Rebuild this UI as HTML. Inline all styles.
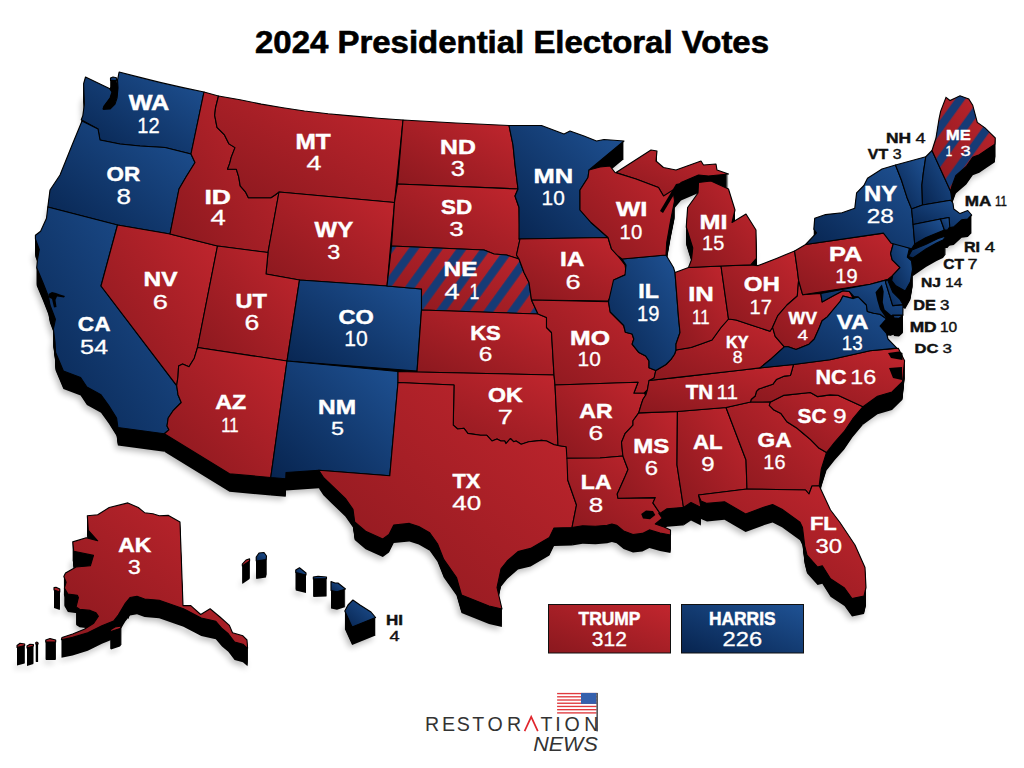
<!DOCTYPE html><html><head><meta charset="utf-8"><style>
html,body{margin:0;padding:0;background:#fff;width:1024px;height:768px;overflow:hidden}
svg{display:block}
text{font-family:"Liberation Sans",sans-serif}
</style></head><body>
<svg width="1024" height="768" viewBox="0 0 1024 768">
<defs>
<linearGradient id="gR" x1="0" y1="1" x2="1" y2="0"><stop offset="0" stop-color="#8a181e"/><stop offset="1" stop-color="#c2262e"/></linearGradient>
<linearGradient id="gB" x1="0" y1="1" x2="1" y2="0"><stop offset="0" stop-color="#07244f"/><stop offset="1" stop-color="#1f5294"/></linearGradient>
<pattern id="stripes" patternUnits="userSpaceOnUse" width="19.46" height="40" patternTransform="rotate(35.8)"><rect x="9.9" y="0" width="8.3" height="40" fill="#163b76"/></pattern>
<pattern id="stripesME" patternUnits="userSpaceOnUse" width="19.46" height="40" patternTransform="rotate(35.8)"><rect x="0" y="0" width="4.15" height="40" fill="#163b76"/><rect x="15.31" y="0" width="4.15" height="40" fill="#163b76"/></pattern>
<filter id="blur" x="-10%" y="-10%" width="120%" height="130%"><feGaussianBlur stdDeviation="3"/></filter>

<g id="land"><path id="sWA" d="M85.5,77 L109.4,88.4 L112,92 L110,98 L104,106 L103,109 L110,109 L115,104 L117,98 L118,88 L117.5,80 L119.1,72 L140,77.4 L160,82.4 L182,87.4 L204,92 L191,154 L165,147.5 L140,146 L120,144 L100,140 L98,129 L81.25,119.7 L82.8,115.8 L84.4,104 L83.6,83.75Z"/><path id="sWAp" d="M110.5,78 L113,77 L116.4,77.8 L116.4,80.5 L110.5,80.5Z"/><path id="sOR" d="M82,121 L98,129 L100,140 L120,144 L140,146 L165,147.5 L191,154 L195,162.5 L186,177 L179,189 L170,234 L117.5,225 L47.8,207 L50,190 L60,175 L72.5,144Z"/><path id="sCA" d="M47.8,207 L117.5,225 L101,286 L176.7,385.6 L178,394.7 L181.25,402.5 L173.4,410.3 L168.2,418 L167,426 L168.9,429.8 L164.3,433.75 L117.9,427.5 L116.6,418 L108.75,405.6 L101,394.7 L86.9,387 L80.6,377.5 L63.4,371 L55.6,352.5 L55,342 L53.4,329 L55.4,319.3 L50,305 L48.4,296.4 L43.2,283.3 L36.7,267.7 L37.4,260 L39.3,249.5 L35.4,239 L35.4,235.2 L40.6,231.25 L46.5,218.2Z"/><path id="sNV" d="M117.5,225 L170,234 L217.5,246 L197.5,347.5 L194.3,358.2 L189,366.7 L182.6,364 L178.6,366 L178,376.5 L176.7,385.6 L101,286Z"/><path id="sID" d="M204,92 L218.5,96 L215.5,108 L214.7,115.4 L217,127.4 L224.5,134.9 L229,143.9 L235,147.6 L231.2,157.4 L229.7,163.4 L227.5,169.3 L236.4,169.3 L238.7,176.8 L240.2,185.8 L245.4,191.8 L248.4,197.8 L257.4,197.8 L270.9,197.8 L275.4,194.8 L279,192 L268,252.5 L217.5,246 L170,234 L179,189 L186,177 L195,162.5 L191,154Z"/><path id="sMT" d="M218.5,96 L240,99.8 L261.3,104.1 L283,107.8 L304.5,111 L328,113.8 L353.8,116.1 L378,118.2 L403,120 L394.5,202.5 L279,192 L275.4,194.8 L270.9,197.8 L257.4,197.8 L248.4,197.8 L245.4,191.8 L240.2,185.8 L238.7,176.8 L236.4,169.3 L227.5,169.3 L229.7,163.4 L231.2,157.4 L235,147.6 L229,143.9 L224.5,134.9 L217,127.4 L214.7,115.4 L215.5,108 L218.5,96Z"/><path id="sWY" d="M279,192 L394.5,202.5 L387,286 L299.5,280 L266,274 L268,252.5Z"/><path id="sUT" d="M217.5,246 L268,252.5 L266,274 L299.5,280 L287,361 L197.5,347.5Z"/><path id="sAZ" d="M197.5,347.5 L287,361 L270.75,477.5 L229.5,473.75 L164.3,433.75 L168.9,429.8 L167,426 L168.2,418 L173.4,410.3 L181.25,402.5 L178,394.7 L176.7,385.6 L178,376.5 L178.6,366 L182.6,364 L189,366.7 L194.3,358.2Z"/><path id="sCO" d="M299.5,280 L387,286 L421.5,289 L421.5,310 L417,371 L287,361Z"/><path id="sNM" d="M287,361 L398,371.5 L398,382.5 L389.8,475.8 L318.75,470.3 L286,472.5 L285.75,478.75 L270.75,477.5Z"/><path id="sND" d="M403,120 L456,123 L509,125.5 L513,145 L515,165 L518,189 L397.5,184Z"/><path id="sSD" d="M397.5,184 L518,189 L515,196 L519,207.5 L520,239 L516.5,255 L519,259 L506.5,255 L494,254 L484,250 L391.5,246 L394.5,202.5Z"/><path id="sNE" d="M391.5,246 L484,250 L494,254 L506.5,255 L519,259 L524,272.5 L529,282.5 L531.5,300 L538,314 L421.5,310 L421.5,289 L387,286Z"/><path id="sKS" d="M421.5,310 L538,314 L546.5,317.5 L546.5,327.5 L551.5,332.5 L554,375 L417,372Z"/><path id="sOK" d="M398,371.5 L417,372 L554,375 L555,385 L558,445.5 L554.2,444.8 L546.6,441 L541.5,440.4 L528.8,441.7 L521.2,444.2 L516.1,441 L513.55,441.7 L510.4,438.5 L505.9,443.6 L504.7,441 L500.9,441 L497,439.1 L492,441 L486.9,435.3 L480.5,435.3 L467.85,433.4 L464,428.3 L457.7,429 L453.25,425.2 L454,385 L398,382.5Z"/><path id="sTX" d="M398,382.5 L454,385 L453.25,425.2 L457.7,429 L464,428.3 L467.85,433.4 L480.5,435.3 L486.9,435.3 L492,441 L497,439.1 L500.9,441 L504.7,441 L505.9,443.6 L510.4,438.5 L513.55,441.7 L516.1,441 L521.2,444.2 L528.8,441.7 L541.5,440.4 L546.6,441 L554.2,444.8 L558,445.5 L566.2,446.7 L567.75,457.5 L567.75,480 L576.5,505 L572,527.5 L554,528 L549.4,537.5 L530.6,548.4 L518,551.6 L507.2,561 L501,568.75 L497,587.5 L502,609 L489,606 L474,600 L461.5,595 L456.5,577.5 L443.75,559.4 L437.5,543.75 L429.7,532.8 L418.75,526.6 L409.4,523.4 L393.75,525 L389,534.4 L382.8,539 L365.6,531.25 L354.7,521.9 L353,509.4 L345.3,498.4 L331.25,485 L323.4,477.3 L318.75,470.3 L389.8,475.8Z"/><path id="sMN" d="M509,125.5 L541.5,125.5 L564,134 L570,131 L584,136 L596.5,141 L604,139.5 L624,141 L589,170 L588,177.5 L580,190 L580,210 L591,222.5 L608,237.5 L519,239 L519,207.5 L515,196 L518,189 L515,165 L513,145Z"/><path id="sIA" d="M519,239 L608,237.5 L611.5,249 L618,256 L625,265 L626.5,274 L614,280 L613,292.5 L608,301 L531.5,300 L529,282.5 L524,272.5 L519,259 L516.5,255 L520,239Z"/><path id="sMO" d="M531.5,300 L608.5,301.8 L610.2,312 L623.7,325.5 L625.4,332.3 L632.1,334 L633.8,339 L632.1,344.1 L638.9,352.6 L645.7,356 L649,361 L649,367.8 L655.8,370.4 L654.1,378 L649,381.4 L647.4,389.8 L644,393.2 L633.8,393.2 L638,382.2 L555,385 L554,375 L551.5,332.5 L546.5,327.5 L546.5,317.5 L538,314Z"/><path id="sAR" d="M555,385 L638,382.2 L633.8,393.2 L644,393.2 L645.8,395 L643,399.3 L641.5,403.6 L638.7,412.9 L633,420.8 L633,425.1 L625,433.7 L621.5,442.3 L622.9,456 L600,458 L566.9,458.2 L566.2,446.7 L558,445.5Z"/><path id="sLA" d="M566.9,458.2 L600,458 L622.9,456 L625.8,463.8 L628,469.5 L624.4,478.1 L618.6,491 L617.2,493.9 L617.9,498.2 L655.3,497.6 L652.9,502.9 L660,513.4 L658.8,513.4 L662.3,518.1 L655.3,524 L664,527 L670.5,530 L670.5,535 L660,533 L649.4,529.9 L642.4,533.4 L633,534.5 L623.6,531 L616.6,525.2 L611.9,524 L607.2,525.2 L595.5,526.3 L582.6,525.75 L572,527.5 L576.5,505 L567.75,480Z"/><path id="sMS" d="M638.7,412.9 L677.4,411.5 L677,465 L683.5,507.5 L682.2,507.6 L667,508.75 L660,513.4 L652.9,502.9 L655.3,497.6 L617.9,498.2 L617.2,493.9 L618.6,491 L624.4,478.1 L628,469.5 L625.8,463.8 L622.9,456 L621.5,442.3 L625,433.7 L633,425.1 L633,420.8Z"/><path id="sAL" d="M677.4,411.5 L726,407.5 L746,460 L747,489 L698.5,495 L701,507.5 L691,502.5 L683.5,507.5 L677,465Z"/><path id="sGA" d="M726,407.5 L750.55,402 L770.5,401.9 L769.3,405.4 L774,410.1 L781,413.6 L786.9,421.8 L796.3,427.7 L803.3,433.5 L810.3,439.4 L819.2,448.3 L826.5,452.5 L821.25,469.2 L819.2,485.8 L812,486 L809,494 L805.5,490 L747,489 L746,460Z"/><path id="sFL" d="M747,489 L805.5,490 L809,494 L812,486 L819.2,485.8 L830.5,510 L840,522.5 L855,545 L865,567.5 L866,587.5 L864,596 L852,598.6 L844.5,588 L830.5,578.7 L822.3,565.8 L817.6,567 L807,555.2 L804.7,545.9 L802.5,527.5 L800,522.2 L782,509.3 L772.6,504.6 L764.4,507 L745.6,514 L724.5,501.7 L707,503.4 L701,501 L698.5,495Z"/><path id="sSC" d="M770.5,401.9 L783.4,395.4 L810.3,392.5 L817.4,396.6 L830,394.9 L838,395.2 L863,406.7 L852.5,419.2 L844,431.7 L834.8,442 L826.5,452.5 L819.2,448.3 L810.3,439.4 L803.3,433.5 L796.3,427.7 L786.9,421.8 L781,413.6 L774,410.1 L769.3,405.4Z"/><path id="sNC" d="M793.5,364.5 L791.6,371.4 L790.4,375.5 L784.5,376.1 L776.3,379.6 L772.8,384.3 L758.8,389 L756.4,391.3 L755.2,396 L751.1,399.5 L750.55,402 L770.5,401.9 L783.4,395.4 L810.3,392.5 L817.4,396.6 L830,394.9 L838,395.2 L863,406.7 L877.5,396.25 L892,392 L902.5,381.7 L903.5,371.25 L904.6,360.8 L898.3,348.3 L870,350.7 L830,359.7Z"/><path id="sTN" d="M649,380.5 L679.5,377.1 L740,370.2 L760,367.9 L793.5,364.5 L791.6,371.4 L790.4,375.5 L784.5,376.1 L776.3,379.6 L772.8,384.3 L758.8,389 L756.4,391.3 L755.2,396 L751.1,399.5 L750.55,402 L726,407.5 L677.4,411.5 L638.7,412.9 L641.5,403.6 L643,399.3 L645.8,395 L647.4,389.8Z"/><path id="sKY" d="M676,350 L691,347.5 L701,344 L712,340 L721,327.5 L728.5,319 L736,320 L751,325 L770,331.2 L772.6,327.3 L775.2,336.4 L784.3,346.8 L770,359.8 L760,367.9 L740,370.2 L679.5,377.1 L649,380.5 L654.1,378 L655.8,370.4 L666,364.5 L671,359.4 L674.5,354.3Z"/><path id="sIL" d="M622,259 L666,255 L673.5,267.5 L675,272.5 L678.5,317.5 L680,332.5 L676,344 L676,350 L674.5,354.3 L671,359.4 L666,364.5 L655.8,370.4 L649,367.8 L649,361 L645.7,356 L638.9,352.6 L632.1,344.1 L633.8,339 L632.1,334 L625.4,332.3 L623.7,325.5 L610.2,312 L608.5,301.8 L613.5,280 L625,275 L626,265Z"/><path id="sIN" d="M675,272.5 L688.5,267.5 L721,266 L728.5,319 L721,327.5 L712,340 L701,344 L691,347.5 L676,350 L676,344 L680,332.5 L678.5,317.5Z"/><path id="sOH" d="M721,266 L751,265 L758.2,265.6 L776.4,258.4 L794.6,251 L797.3,270 L798.6,280.4 L797.3,296 L787,305 L777.8,315.6 L772.6,327.3 L770,331.2 L751,325 L736,320 L728.5,319Z"/><path id="sWV" d="M798.6,280.4 L802.6,294.7 L820.8,293.4 L822.1,301.9 L833.8,295.4 L842.9,290.8 L849.4,291.5 L853.3,298.6 L842.9,296 L840.3,301.25 L833.8,309 L827.3,316.9 L822.1,320.8 L819.5,327.3 L814.3,339 L809,344.2 L796,349.4 L788.2,346.8 L784.3,346.8 L775.2,336.4 L772.6,327.3 L777.8,315.6 L787,305 L797.3,296Z"/><path id="sVA" d="M760,367.9 L770,359.8 L784.3,346.8 L788.2,346.8 L796,349.4 L809,344.2 L814.3,339 L819.5,327.3 L822.1,320.8 L827.3,316.9 L833.8,309 L840.3,301.25 L842.9,296 L853.3,298.6 L858.2,296.9 L866.4,305 L867.3,311.5 L873.7,313.3 L880,314.2 L886.5,318.75 L880,326 L886.5,333.3 L888,339 L896.9,348.1 L870,350.7 L830,359.7 L793.5,364.5Z"/><path id="sVAe" d="M892.8,315.1 L902.9,315.1 L899,318.5 L894,318Z"/><path id="sPA" d="M794.6,251 L805.6,244.5 L883.4,233.1 L893.75,242 L890.6,253.5 L892.2,259.8 L900,267.6 L892.7,275.4 L887.5,279.6 L870.3,284.3 L802.6,294.7 L798.6,280.4 L797.3,270Z"/><path id="sMD" d="M820.8,293.4 L870.3,284.3 L887.5,279.6 L885.4,281.7 L892.7,305.6 L903,304.6 L902.9,315.1 L892.8,315.1 L886.5,318.75 L880,314.2 L873.7,313.3 L867.3,311.5 L866.4,305 L858.2,296.9 L853.9,296.6 L849.4,291.5 L842.9,290.8 L833.8,295.4 L822.1,301.9Z"/><path id="sDE" d="M885.4,281.7 L887.5,279.6 L892.7,292 L900,299.4 L903,304.6 L892.7,305.6Z"/><path id="sNJ" d="M893.75,242 L909.4,248.3 L907.3,257.2 L911.5,260.8 L912.5,269.2 L910.4,281.7 L905.2,291 L895.8,285.8 L891.7,280.6 L892.7,275.4 L900,267.6 L892.2,259.8 L890.6,253.5Z"/><path id="sNY" d="M814.7,218.3 L825.6,214.6 L842,212.8 L854.75,208.3 L856.6,192.8 L863.9,185.5 L867.5,178.2 L882,169 L895.5,165 L901.4,180 L906.9,197.2 L911.6,208.9 L913.1,224.5 L914.7,244 L911.6,248.75 L891.25,243.3 L883.4,233.1 L805.6,244.5 L816.5,232.9 L813.8,229.2Z"/><path id="sLI" d="M908.4,256.6 L912,250 L925.6,244.5 L938,238.5 L946,236 L943,240 L936.6,243 L926,249 L913,258Z"/><path id="sVT" d="M895.5,165 L925.8,156.75 L923.4,172.4 L921.9,185 L922.5,205 L911.6,208.9 L906.9,197.2 L901.4,180Z"/><path id="sNH" d="M925.8,156.75 L932,150.5 L950.6,191.2 L952.2,201.9 L950.6,200.3 L922.5,205 L921.9,185 L923.4,172.4Z"/><path id="sME" d="M932,150.5 L936,138 L939,119 L940.6,111.4 L946,97.4 L950,100.5 L960,95.8 L968.75,99 L972.7,105.2 L977.3,122.4 L985,127.8 L990.6,133.3 L995.3,138 L994.9,144.3 L987,149.5 L979.3,154.7 L972.75,157.3 L966.25,166.5 L955.8,175.6 L952,186 L950.6,191.2Z"/><path id="sMA" d="M911.6,208.9 L922.5,205 L950.6,200.3 L952.2,201.9 L953,203.4 L953.75,209 L960,213.6 L967.8,210.5 L971.7,215 L967.8,219 L961.6,219.8 L953.75,226.9 L949,227.7 L949,217.5 L940.5,219 L913.1,224.5Z"/><path id="sCT" d="M913.1,224.5 L940.5,219 L944.4,230 L925.6,237.8 L914.7,244Z"/><path id="sRI" d="M940.5,219 L949,217.5 L949.8,226.9 L947.5,230 L944.4,230Z"/><path id="sMI" d="M616,172.5 L651,150 L657,151 L656,161 L663.5,167.5 L676,170 L701,161 L703.5,165 L716,164 L717,170 L728.5,174 L708.5,176 L698.5,175 L681,182.5 L667,199 L663.5,196 L658.5,187.5 L636,179Z"/><path id="sMI2" d="M698.5,182.5 L711,181 L728.5,189 L735,210 L732,222.5 L746,214 L756,230 L756.4,258.4 L751,264.7 L721,266 L688.5,267.5 L691.5,259.6 L692.75,248 L686.25,227 L687.6,207.5 L698,193Z"/><path id="sWI" d="M589,170 L600,167 L610,166 L615,172.5 L636,179 L658.5,187.5 L663.5,196 L673,190 L674.5,201 L670.6,220.6 L666.7,242.7 L666,255 L622,259 L618,256 L611.5,249 L608,237.5 L591,222.5 L580,210 L580,190 L588,177.5Z"/><path id="sAK" d="M87.3,515.8 L97.7,514.8 L109.2,507.5 L127.9,502.9 L138.3,507.5 L144.6,512.7 L152.9,513.75 L159.2,515.8 L168.5,515.4 L180,522 L183,605.6 L190.8,605.6 L200.7,614.5 L210.1,608.75 L220,617 L229.4,625.4 L232.5,632.7 L242.9,635.8 L247,640 L247.6,648.3 L242.9,644.2 L234.6,642 L228.3,633.75 L222,628.5 L215.8,621.25 L201.25,618 L183.5,608.75 L159.2,600.2 L144.6,599 L137,596.3 L130,597.5 L125.3,603.4 L118.3,615.1 L113.6,621 L101.9,625.65 L87.8,632.7 L72.6,637.4 L61.4,639.7 L62,637.4 L72.6,633.9 L84.3,629.2 L93.7,623.3 L98.4,616.3 L96,612.75 L90.2,610.4 L79.6,609.2 L76.1,606.9 L78.4,597.5 L77.3,595.2 L67.9,594 L64.4,588.1 L66.1,582.3 L63.8,576.4 L65.5,572.9 L76.1,567 L90.4,565.8 L93.5,555.4 L73.75,551.25 L72.7,541.9 L86.25,537.7 L97.7,540.8 L88.3,530.4Z"/><path id="sAKk" d="M110,630 L115,627 L121.8,626 L120,628.5 L111,631.5Z"/><path id="sHI1" d="M352.9,600 L360,605 L371,612 L375.6,617.5 L352.1,627 L344.8,611 L348,605Z"/><path id="sHI2" d="M331,581.6 L335,583 L338,583 L345.5,589 L337,591.8 L331,590.5Z"/><path id="sHI3" d="M313.3,577 L318,576.2 L326.5,577 L326.5,578.6 L313.3,579Z"/><path id="sHI4" d="M295.75,570 L299.5,567.7 L306,573 L306,575 L295.75,572.5Z"/><path id="sHI5" d="M256.2,557 L259,553 L264,552.5 L266.5,556 L266,559.6 L256.2,561Z"/><path id="sHI6" d="M242.3,564 L246,560 L249.6,558.9 L249.6,561 L242.3,566Z"/><path id="sAL1" d="M17,645.5 L20,643.3 L24.7,644 L24.7,645.5 L17,647.5Z"/><path id="sAL2" d="M27,646 L30,644.2 L33.4,644.5 L33.4,646 L27,648Z"/><path id="sAL3" d="M35.8,642.5 L37,642.1 L38.1,643 L38.1,644 L35.8,644Z"/><path id="sAL4" d="M45.75,640 L50,638.6 L55.7,640 L55.7,642 L45.75,642Z"/><path id="sAL5" d="M54,587.5 L56,587.3 L59.8,589 L59.8,592 L54,590Z"/></g>
</defs>
<rect width="1024" height="768" fill="#fff"/>
<use href="#land" transform="translate(-2,21)" fill="#000" opacity="0.28" filter="url(#blur)"/>
<use href="#land" transform="translate(0,1)" fill="#000"/>
<use href="#land" transform="translate(0,2)" fill="#000"/>
<use href="#land" transform="translate(0,3)" fill="#000"/>
<use href="#land" transform="translate(0,4)" fill="#000"/>
<use href="#land" transform="translate(0,5)" fill="#000"/>
<use href="#land" transform="translate(0,6)" fill="#000"/>
<use href="#land" transform="translate(0,7)" fill="#000"/>
<use href="#land" transform="translate(0,8)" fill="#000"/>
<use href="#land" transform="translate(0,9)" fill="#000"/>
<use href="#land" transform="translate(0,10)" fill="#000"/>
<use href="#land" transform="translate(0,11)" fill="#000"/>
<use href="#land" transform="translate(0,12)" fill="#000"/>
<use href="#land" transform="translate(0,13)" fill="#000"/>
<use href="#land" transform="translate(0,14)" fill="#000"/>
<use href="#land" transform="translate(0,15)" fill="#000"/>
<use href="#land" transform="translate(0,16)" fill="#000"/>
<use href="#land" transform="translate(0,17)" fill="#000"/>
<use href="#land" transform="translate(0,18)" fill="#000"/>
<use href="#sWA" fill="url(#gB)" stroke="#000" stroke-width="1.1" stroke-linejoin="round"/>
<use href="#sWAp" fill="url(#gB)" stroke="#000" stroke-width="1.1" stroke-linejoin="round"/>
<use href="#sOR" fill="url(#gB)" stroke="#000" stroke-width="1.1" stroke-linejoin="round"/>
<use href="#sCA" fill="url(#gB)" stroke="#000" stroke-width="1.1" stroke-linejoin="round"/>
<use href="#sNV" fill="url(#gR)" stroke="#000" stroke-width="1.1" stroke-linejoin="round"/>
<use href="#sID" fill="url(#gR)" stroke="#000" stroke-width="1.1" stroke-linejoin="round"/>
<use href="#sMT" fill="url(#gR)" stroke="#000" stroke-width="1.1" stroke-linejoin="round"/>
<use href="#sWY" fill="url(#gR)" stroke="#000" stroke-width="1.1" stroke-linejoin="round"/>
<use href="#sUT" fill="url(#gR)" stroke="#000" stroke-width="1.1" stroke-linejoin="round"/>
<use href="#sAZ" fill="url(#gR)" stroke="#000" stroke-width="1.1" stroke-linejoin="round"/>
<use href="#sCO" fill="url(#gB)" stroke="#000" stroke-width="1.1" stroke-linejoin="round"/>
<use href="#sNM" fill="url(#gB)" stroke="#000" stroke-width="1.1" stroke-linejoin="round"/>
<use href="#sND" fill="url(#gR)" stroke="#000" stroke-width="1.1" stroke-linejoin="round"/>
<use href="#sSD" fill="url(#gR)" stroke="#000" stroke-width="1.1" stroke-linejoin="round"/>
<use href="#sNE" fill="url(#gR)"/><use href="#sNE" fill="url(#stripes)" stroke="#000" stroke-width="1.1"/>
<use href="#sKS" fill="url(#gR)" stroke="#000" stroke-width="1.1" stroke-linejoin="round"/>
<use href="#sOK" fill="url(#gR)" stroke="#000" stroke-width="1.1" stroke-linejoin="round"/>
<use href="#sTX" fill="url(#gR)" stroke="#000" stroke-width="1.1" stroke-linejoin="round"/>
<use href="#sMN" fill="url(#gB)" stroke="#000" stroke-width="1.1" stroke-linejoin="round"/>
<use href="#sIA" fill="url(#gR)" stroke="#000" stroke-width="1.1" stroke-linejoin="round"/>
<use href="#sMO" fill="url(#gR)" stroke="#000" stroke-width="1.1" stroke-linejoin="round"/>
<use href="#sAR" fill="url(#gR)" stroke="#000" stroke-width="1.1" stroke-linejoin="round"/>
<use href="#sLA" fill="url(#gR)" stroke="#000" stroke-width="1.1" stroke-linejoin="round"/>
<use href="#sMS" fill="url(#gR)" stroke="#000" stroke-width="1.1" stroke-linejoin="round"/>
<use href="#sAL" fill="url(#gR)" stroke="#000" stroke-width="1.1" stroke-linejoin="round"/>
<use href="#sGA" fill="url(#gR)" stroke="#000" stroke-width="1.1" stroke-linejoin="round"/>
<use href="#sFL" fill="url(#gR)" stroke="#000" stroke-width="1.1" stroke-linejoin="round"/>
<use href="#sSC" fill="url(#gR)" stroke="#000" stroke-width="1.1" stroke-linejoin="round"/>
<use href="#sNC" fill="url(#gR)" stroke="#000" stroke-width="1.1" stroke-linejoin="round"/>
<use href="#sTN" fill="url(#gR)" stroke="#000" stroke-width="1.1" stroke-linejoin="round"/>
<use href="#sKY" fill="url(#gR)" stroke="#000" stroke-width="1.1" stroke-linejoin="round"/>
<use href="#sIL" fill="url(#gB)" stroke="#000" stroke-width="1.1" stroke-linejoin="round"/>
<use href="#sIN" fill="url(#gR)" stroke="#000" stroke-width="1.1" stroke-linejoin="round"/>
<use href="#sOH" fill="url(#gR)" stroke="#000" stroke-width="1.1" stroke-linejoin="round"/>
<use href="#sWV" fill="url(#gR)" stroke="#000" stroke-width="1.1" stroke-linejoin="round"/>
<use href="#sVA" fill="url(#gB)" stroke="#000" stroke-width="1.1" stroke-linejoin="round"/>
<use href="#sVAe" fill="url(#gB)" stroke="#000" stroke-width="1.1" stroke-linejoin="round"/>
<use href="#sPA" fill="url(#gR)" stroke="#000" stroke-width="1.1" stroke-linejoin="round"/>
<use href="#sMD" fill="url(#gB)" stroke="#000" stroke-width="1.1" stroke-linejoin="round"/>
<use href="#sDE" fill="url(#gB)" stroke="#000" stroke-width="1.1" stroke-linejoin="round"/>
<use href="#sNJ" fill="url(#gB)" stroke="#000" stroke-width="1.1" stroke-linejoin="round"/>
<use href="#sNY" fill="url(#gB)" stroke="#000" stroke-width="1.1" stroke-linejoin="round"/>
<use href="#sLI" fill="url(#gB)" stroke="#000" stroke-width="1.1" stroke-linejoin="round"/>
<use href="#sVT" fill="url(#gB)" stroke="#000" stroke-width="1.1" stroke-linejoin="round"/>
<use href="#sNH" fill="url(#gB)" stroke="#000" stroke-width="1.1" stroke-linejoin="round"/>
<use href="#sME" fill="url(#gR)"/><use href="#sME" fill="url(#stripesME)" stroke="#000" stroke-width="1.1"/>
<use href="#sMA" fill="url(#gB)" stroke="#000" stroke-width="1.1" stroke-linejoin="round"/>
<use href="#sCT" fill="url(#gB)" stroke="#000" stroke-width="1.1" stroke-linejoin="round"/>
<use href="#sRI" fill="url(#gB)" stroke="#000" stroke-width="1.1" stroke-linejoin="round"/>
<use href="#sMI" fill="url(#gR)" stroke="#000" stroke-width="1.1" stroke-linejoin="round"/>
<use href="#sMI2" fill="url(#gR)" stroke="#000" stroke-width="1.1" stroke-linejoin="round"/>
<use href="#sWI" fill="url(#gR)" stroke="#000" stroke-width="1.1" stroke-linejoin="round"/>
<use href="#sAK" fill="url(#gR)" stroke="#000" stroke-width="1.1" stroke-linejoin="round"/>
<use href="#sAKk" fill="url(#gR)" stroke="#000" stroke-width="1.1" stroke-linejoin="round"/>
<use href="#sHI1" fill="url(#gB)" stroke="#000" stroke-width="1.1" stroke-linejoin="round"/>
<use href="#sHI2" fill="url(#gB)" stroke="#000" stroke-width="1.1" stroke-linejoin="round"/>
<use href="#sHI3" fill="url(#gB)" stroke="#000" stroke-width="1.1" stroke-linejoin="round"/>
<use href="#sHI4" fill="url(#gB)" stroke="#000" stroke-width="1.1" stroke-linejoin="round"/>
<use href="#sHI5" fill="url(#gB)" stroke="#000" stroke-width="1.1" stroke-linejoin="round"/>
<use href="#sHI6" fill="url(#gR)" stroke="#000" stroke-width="1.1" stroke-linejoin="round"/>
<use href="#sAL1" fill="url(#gR)" stroke="#000" stroke-width="1.1" stroke-linejoin="round"/>
<use href="#sAL2" fill="url(#gR)" stroke="#000" stroke-width="1.1" stroke-linejoin="round"/>
<use href="#sAL3" fill="url(#gR)" stroke="#000" stroke-width="1.1" stroke-linejoin="round"/>
<use href="#sAL4" fill="url(#gR)" stroke="#000" stroke-width="1.1" stroke-linejoin="round"/>
<use href="#sAL5" fill="url(#gR)" stroke="#000" stroke-width="1.1" stroke-linejoin="round"/>
<path d="M127,602 L130,598.5 L136,597.5 L137.5,599.5 L134,603 L131,610 L128.5,619 L126,616 L127.5,608Z" fill="#000"/>
<path d="M48.5,294 L52,292 L56,293 L60,294.5 L65,296 L64,297.5 L57,296.5 L55.5,300 L56.5,307 L54,307.5 L52,299 L49,297.5Z" fill="#000"/>
<path d="M660,211 L676,184 L681,183 L666,208 L663,213Z" fill="#000"/>
<path d="M641.2,514 L646,510.5 L653,511 L655.3,515 L650,519.3 L643,518.5Z" fill="#000"/>
<path d="M109.4,88.4 L116.4,80.5 L118,88 L117,98 L115,104 L110,109 L103,110 L104,106 L110,98 L112,92Z" fill="#000"/>
<path d="M881.9,284.6 L883.7,291.4 L882.8,302.3 L884.6,309.6 L891,315.1 L892,326 L897.4,333.3 L890,336 L886.5,333.3 L880,326 L886.5,318.75 L880,309.6 L877.3,300.5 L875.5,292.3Z" fill="#000"/>
<path d="M888,353 L899,351.5 L902.5,353 L902.5,360 L891,358Z" fill="#000"/>
<path d="M889,368 L902,367 L902,380 L893,378Z" fill="#000"/>
<text transform="translate(128.75,110) scale(1.127,1)" font-size="22.35" font-weight="bold" fill="#fff" stroke="#fff" stroke-width="0.45">WA</text>
<text transform="translate(137.34,132.5) scale(0.898,1)" font-size="22.35" fill="#fff" stroke="#fff" stroke-width="0.30">12</text>
<text transform="translate(106.60,181) scale(1.071,1)" font-size="20.95" font-weight="bold" fill="#fff" stroke="#fff" stroke-width="0.45">OR</text>
<text transform="translate(116.46,203.5) scale(1.203,1)" font-size="21.65" fill="#fff" stroke="#fff" stroke-width="0.30">8</text>
<text transform="translate(204.41,204) scale(1.262,1)" font-size="20.95" font-weight="bold" fill="#fff" stroke="#fff" stroke-width="0.45">ID</text>
<text transform="translate(210.45,225) scale(1.268,1)" font-size="21.65" fill="#fff" stroke="#fff" stroke-width="0.30">4</text>
<text transform="translate(295.54,148.5) scale(1.092,1)" font-size="22.35" font-weight="bold" fill="#fff" stroke="#fff" stroke-width="0.45">MT</text>
<text transform="translate(306.46,170) scale(1.287,1)" font-size="20.95" fill="#fff" stroke="#fff" stroke-width="0.30">4</text>
<text transform="translate(314.50,237) scale(1.074,1)" font-size="22.35" font-weight="bold" fill="#fff" stroke="#fff" stroke-width="0.45">WY</text>
<text transform="translate(327.30,259) scale(1.120,1)" font-size="20.95" fill="#fff" stroke="#fff" stroke-width="0.30">3</text>
<text transform="translate(440.01,154) scale(1.183,1)" font-size="20.95" font-weight="bold" fill="#fff" stroke="#fff" stroke-width="0.45">ND</text>
<text transform="translate(450.73,176) scale(1.178,1)" font-size="21.65" fill="#fff" stroke="#fff" stroke-width="0.30">3</text>
<text transform="translate(441.05,213.75) scale(1.089,1)" font-size="20.60" font-weight="bold" fill="#fff" stroke="#fff" stroke-width="0.45">SD</text>
<text transform="translate(449.22,236) scale(1.242,1)" font-size="20.95" fill="#fff" stroke="#fff" stroke-width="0.30">3</text>
<text transform="translate(533.47,182.5) scale(1.216,1)" font-size="20.95" font-weight="bold" fill="#fff" stroke="#fff" stroke-width="0.45">MN</text>
<text transform="translate(541.54,205) scale(0.996,1)" font-size="20.95" fill="#fff" stroke="#fff" stroke-width="0.30">10</text>
<text transform="translate(616.00,216) scale(1.230,1)" font-size="20.95" font-weight="bold" fill="#fff" stroke="#fff" stroke-width="0.45">WI</text>
<text transform="translate(619.57,238.5) scale(0.973,1)" font-size="20.95" fill="#fff" stroke="#fff" stroke-width="0.30">10</text>
<text transform="translate(699.49,229) scale(1.202,1)" font-size="20.95" font-weight="bold" fill="#fff" stroke="#fff" stroke-width="0.45">MI</text>
<text transform="translate(702.11,250) scale(0.949,1)" font-size="20.95" fill="#fff" stroke="#fff" stroke-width="0.30">15</text>
<text transform="translate(864.07,201) scale(1.066,1)" font-size="22.35" font-weight="bold" fill="#fff" stroke="#fff" stroke-width="0.45">NY</text>
<text transform="translate(866.78,222.5) scale(1.163,1)" font-size="20.95" fill="#fff" stroke="#fff" stroke-width="0.30">28</text>
<text transform="translate(235.59,307.5) scale(1.126,1)" font-size="20.95" font-weight="bold" fill="#fff" stroke="#fff" stroke-width="0.45">UT</text>
<text transform="translate(244.42,330) scale(1.190,1)" font-size="22.35" fill="#fff" stroke="#fff" stroke-width="0.30">6</text>
<text transform="translate(338.56,324) scale(1.124,1)" font-size="20.95" font-weight="bold" fill="#fff" stroke="#fff" stroke-width="0.45">CO</text>
<text transform="translate(344.27,346) scale(0.945,1)" font-size="22.35" fill="#fff" stroke="#fff" stroke-width="0.30">10</text>
<text transform="translate(143.54,286) scale(1.165,1)" font-size="20.95" font-weight="bold" fill="#fff" stroke="#fff" stroke-width="0.45">NV</text>
<text transform="translate(152.86,309) scale(1.300,1)" font-size="20.95" fill="#fff" stroke="#fff" stroke-width="0.30">6</text>
<text transform="translate(77.85,331) scale(1.079,1)" font-size="20.95" font-weight="bold" fill="#fff" stroke="#fff" stroke-width="0.45">CA</text>
<text transform="translate(79.99,354) scale(1.209,1)" font-size="20.95" fill="#fff" stroke="#fff" stroke-width="0.30">54</text>
<text transform="translate(443.54,276) scale(1.164,1)" font-size="20.95" font-weight="bold" fill="#fff" stroke="#fff" stroke-width="0.45">NE</text>
<text transform="translate(444.45,299) scale(1.228,1)" font-size="22.35" fill="#fff" stroke="#fff" stroke-width="0.30">4</text>
<text transform="translate(469.44,299) scale(0.800,1)" font-size="22.35" fill="#fff" stroke="#fff" stroke-width="0.30">1</text>
<text transform="translate(470.18,340) scale(1.053,1)" font-size="20.95" font-weight="bold" fill="#fff" stroke="#fff" stroke-width="0.45">KS</text>
<text transform="translate(478.78,361) scale(1.168,1)" font-size="20.95" fill="#fff" stroke="#fff" stroke-width="0.30">6</text>
<text transform="translate(560.03,266) scale(1.170,1)" font-size="20.95" font-weight="bold" fill="#fff" stroke="#fff" stroke-width="0.45">IA</text>
<text transform="translate(565.49,289) scale(1.300,1)" font-size="20.95" fill="#fff" stroke="#fff" stroke-width="0.30">6</text>
<text transform="translate(570.01,345) scale(1.183,1)" font-size="20.95" font-weight="bold" fill="#fff" stroke="#fff" stroke-width="0.45">MO</text>
<text transform="translate(577.54,366) scale(0.996,1)" font-size="20.95" fill="#fff" stroke="#fff" stroke-width="0.30">10</text>
<text transform="translate(638.36,297.5) scale(1.108,1)" font-size="20.95" font-weight="bold" fill="#fff" stroke="#fff" stroke-width="0.45">IL</text>
<text transform="translate(637.09,321) scale(0.927,1)" font-size="21.65" fill="#fff" stroke="#fff" stroke-width="0.30">19</text>
<text transform="translate(688.21,301) scale(1.223,1)" font-size="20.95" font-weight="bold" fill="#fff" stroke="#fff" stroke-width="0.45">IN</text>
<text transform="translate(692.10,324) scale(0.800,1)" font-size="20.95" fill="#fff" stroke="#fff" stroke-width="0.30">11</text>
<text transform="translate(743.78,291) scale(1.152,1)" font-size="20.95" font-weight="bold" fill="#fff" stroke="#fff" stroke-width="0.45">OH</text>
<text transform="translate(749.59,314) scale(0.958,1)" font-size="20.95" fill="#fff" stroke="#fff" stroke-width="0.30">17</text>
<text transform="translate(788.50,323.5) scale(1.054,1)" font-size="16.76" font-weight="bold" fill="#fff" stroke="#fff" stroke-width="0.45">WV</text>
<text transform="translate(797.51,339.5) scale(1.300,1)" font-size="14.66" fill="#fff" stroke="#fff" stroke-width="0.30">4</text>
<text transform="translate(726.02,347.5) scale(1.012,1)" font-size="16.06" font-weight="bold" fill="#fff" stroke="#fff" stroke-width="0.45">KY</text>
<text transform="translate(732.79,362.5) scale(1.103,1)" font-size="16.06" fill="#fff" stroke="#fff" stroke-width="0.30">8</text>
<text transform="translate(828.98,261) scale(1.210,1)" font-size="20.95" font-weight="bold" fill="#fff" stroke="#fff" stroke-width="0.45">PA</text>
<text transform="translate(835.34,282.5) scale(0.958,1)" font-size="20.95" fill="#fff" stroke="#fff" stroke-width="0.30">19</text>
<text transform="translate(836.75,329) scale(1.154,1)" font-size="20.95" font-weight="bold" fill="#fff" stroke="#fff" stroke-width="0.45">VA</text>
<text transform="translate(841.68,350) scale(0.901,1)" font-size="20.95" fill="#fff" stroke="#fff" stroke-width="0.30">13</text>
<text transform="translate(815.46,383.5) scale(1.025,1)" font-size="20.95" font-weight="bold" fill="#fff" stroke="#fff" stroke-width="0.45">NC</text>
<text transform="translate(850.37,383.5) scale(1.115,1)" font-size="20.95" fill="#fff" stroke="#fff" stroke-width="0.30">16</text>
<text transform="translate(685.79,399) scale(0.984,1)" font-size="20.95" font-weight="bold" fill="#fff" stroke="#fff" stroke-width="0.45">TN</text>
<text transform="translate(716.56,399) scale(0.984,1)" font-size="20.95" fill="#fff" stroke="#fff" stroke-width="0.30">11</text>
<text transform="translate(579.29,417.5) scale(1.099,1)" font-size="20.95" font-weight="bold" fill="#fff" stroke="#fff" stroke-width="0.45">AR</text>
<text transform="translate(588.50,439.5) scale(1.300,1)" font-size="20.25" fill="#fff" stroke="#fff" stroke-width="0.30">6</text>
<text transform="translate(633.31,452.5) scale(1.148,1)" font-size="20.95" font-weight="bold" fill="#fff" stroke="#fff" stroke-width="0.45">MS</text>
<text transform="translate(644.80,475) scale(1.143,1)" font-size="20.95" fill="#fff" stroke="#fff" stroke-width="0.30">6</text>
<text transform="translate(693.06,449) scale(1.062,1)" font-size="20.95" font-weight="bold" fill="#fff" stroke="#fff" stroke-width="0.45">AL</text>
<text transform="translate(701.29,471.25) scale(1.143,1)" font-size="20.95" fill="#fff" stroke="#fff" stroke-width="0.30">9</text>
<text transform="translate(757.60,446.5) scale(1.156,1)" font-size="19.55" font-weight="bold" fill="#fff" stroke="#fff" stroke-width="0.45">GA</text>
<text transform="translate(763.36,469) scale(0.949,1)" font-size="20.95" fill="#fff" stroke="#fff" stroke-width="0.30">16</text>
<text transform="translate(797.58,422.5) scale(0.992,1)" font-size="20.95" font-weight="bold" fill="#fff" stroke="#fff" stroke-width="0.45">SC</text>
<text transform="translate(833.02,422.5) scale(1.168,1)" font-size="20.95" fill="#fff" stroke="#fff" stroke-width="0.30">9</text>
<text transform="translate(580.87,489) scale(1.097,1)" font-size="20.95" font-weight="bold" fill="#fff" stroke="#fff" stroke-width="0.45">LA</text>
<text transform="translate(588.71,511.5) scale(1.243,1)" font-size="20.95" fill="#fff" stroke="#fff" stroke-width="0.30">8</text>
<text transform="translate(488.07,401.5) scale(1.184,1)" font-size="19.55" font-weight="bold" fill="#fff" stroke="#fff" stroke-width="0.45">OK</text>
<text transform="translate(497.64,424) scale(1.297,1)" font-size="20.95" fill="#fff" stroke="#fff" stroke-width="0.30">7</text>
<text transform="translate(452.53,487.5) scale(1.041,1)" font-size="20.95" font-weight="bold" fill="#fff" stroke="#fff" stroke-width="0.45">TX</text>
<text transform="translate(452.23,510) scale(1.243,1)" font-size="20.95" fill="#fff" stroke="#fff" stroke-width="0.30">40</text>
<text transform="translate(215.29,409) scale(1.187,1)" font-size="19.55" font-weight="bold" fill="#fff" stroke="#fff" stroke-width="0.45">AZ</text>
<text transform="translate(221.23,431.5) scale(0.800,1)" font-size="20.95" fill="#fff" stroke="#fff" stroke-width="0.30">11</text>
<text transform="translate(318.03,414) scale(1.167,1)" font-size="20.95" font-weight="bold" fill="#fff" stroke="#fff" stroke-width="0.45">NM</text>
<text transform="translate(331.06,435) scale(1.243,1)" font-size="18.85" fill="#fff" stroke="#fff" stroke-width="0.30">5</text>
<text transform="translate(118.29,551.5) scale(1.169,1)" font-size="19.55" font-weight="bold" fill="#fff" stroke="#fff" stroke-width="0.45">AK</text>
<text transform="translate(128.06,574) scale(1.174,1)" font-size="19.55" fill="#fff" stroke="#fff" stroke-width="0.30">3</text>
<text transform="translate(809.94,530) scale(1.162,1)" font-size="18.85" font-weight="bold" fill="#fff" stroke="#fff" stroke-width="0.45">FL</text>
<text transform="translate(815.53,552.5) scale(1.141,1)" font-size="20.95" fill="#fff" stroke="#fff" stroke-width="0.30">30</text>
<text transform="translate(946.02,140) scale(1.067,1)" font-size="15.36" font-weight="bold" fill="#fff" stroke="#fff" stroke-width="0.45">ME</text>
<text transform="translate(945.44,156) scale(0.800,1)" font-size="15.36" fill="#fff" stroke="#fff" stroke-width="0.30">1</text>
<text transform="translate(960.45,156) scale(1.196,1)" font-size="15.36" fill="#fff" stroke="#fff" stroke-width="0.30">3</text>
<text transform="translate(885.96,142.6) scale(1.175,1)" font-size="14.80" font-weight="bold" fill="#111" stroke="#111" stroke-width="0.45">NH</text>
<text transform="translate(915.54,142.6) scale(1.232,1)" font-size="14.80" fill="#111" stroke="#111" stroke-width="0.40">4</text>
<text transform="translate(867.80,158.6) scale(1.074,1)" font-size="14.80" font-weight="bold" fill="#111" stroke="#111" stroke-width="0.45">VT</text>
<text transform="translate(892.72,158.6) scale(1.075,1)" font-size="14.80" fill="#111" stroke="#111" stroke-width="0.40">3</text>
<text transform="translate(964.77,206.4) scale(1.189,1)" font-size="14.39" font-weight="bold" fill="#111" stroke="#111" stroke-width="0.45">MA</text>
<text transform="translate(994.89,206.4) scale(0.800,1)" font-size="14.39" fill="#111" stroke="#111" stroke-width="0.40">11</text>
<text transform="translate(963.93,252.1) scale(1.119,1)" font-size="14.39" font-weight="bold" fill="#111" stroke="#111" stroke-width="0.45">RI</text>
<text transform="translate(984.71,252.1) scale(1.300,1)" font-size="14.39" fill="#111" stroke="#111" stroke-width="0.40">4</text>
<text transform="translate(943.28,268.7) scale(1.081,1)" font-size="14.39" font-weight="bold" fill="#111" stroke="#111" stroke-width="0.45">CT</text>
<text transform="translate(967.50,268.7) scale(1.254,1)" font-size="14.39" fill="#111" stroke="#111" stroke-width="0.40">7</text>
<text transform="translate(921.06,286.8) scale(1.141,1)" font-size="13.69" font-weight="bold" fill="#111" stroke="#111" stroke-width="0.45">NJ</text>
<text transform="translate(945.33,286.8) scale(1.122,1)" font-size="13.69" fill="#111" stroke="#111" stroke-width="0.40">14</text>
<text transform="translate(913.22,309.5) scale(1.141,1)" font-size="14.25" font-weight="bold" fill="#111" stroke="#111" stroke-width="0.45">DE</text>
<text transform="translate(939.99,309.5) scale(1.189,1)" font-size="14.25" fill="#111" stroke="#111" stroke-width="0.40">3</text>
<text transform="translate(909.66,332) scale(1.207,1)" font-size="14.39" font-weight="bold" fill="#111" stroke="#111" stroke-width="0.45">MD</text>
<text transform="translate(939.91,332) scale(1.078,1)" font-size="14.39" fill="#111" stroke="#111" stroke-width="0.40">10</text>
<text transform="translate(914.61,352.5) scale(1.207,1)" font-size="13.69" font-weight="bold" fill="#111" stroke="#111" stroke-width="0.45">DC</text>
<text transform="translate(942.49,352.5) scale(1.238,1)" font-size="13.69" fill="#111" stroke="#111" stroke-width="0.40">3</text>
<text transform="translate(385.98,625) scale(1.107,1)" font-size="15.36" font-weight="bold" fill="#111" stroke="#111" stroke-width="0.45">HI</text>
<text transform="translate(389.51,641) scale(1.300,1)" font-size="13.97" fill="#111" stroke="#111" stroke-width="0.40">4</text>
<text x="255" y="52.8" font-size="30.8" font-weight="bold" fill="#000" stroke="#000" stroke-width="0.6" textLength="514" lengthAdjust="spacingAndGlyphs">2024 Presidential Electoral Votes</text>
<rect x="548.5" y="604.5" width="122" height="48.5" fill="url(#gR)" stroke="#111" stroke-width="1"/>
<rect x="681.5" y="604.5" width="122" height="48.5" fill="url(#gB)" stroke="#111" stroke-width="1"/>
<text transform="translate(578.58,624.5) scale(0.997,1)" font-size="17.46" font-weight="bold" fill="#fff" stroke="#fff" stroke-width="0.45">TRUMP</text>
<text transform="translate(591.87,646) scale(1.004,1)" font-size="20.95" fill="#fff" stroke="#fff" stroke-width="0.30">312</text>
<text transform="translate(708.96,624.5) scale(0.996,1)" font-size="17.46" font-weight="bold" fill="#fff" stroke="#fff" stroke-width="0.45">HARRIS</text>
<text transform="translate(722.57,646) scale(1.131,1)" font-size="20.95" fill="#fff" stroke="#fff" stroke-width="0.30">226</text>

<g>
<rect x="557" y="692.5" width="40" height="21" fill="#fff"/>
<rect x="557.1" y="692.90" width="39.4" height="1.35" fill="#e03a3e"/><rect x="557.1" y="696.12" width="39.4" height="1.35" fill="#e03a3e"/><rect x="557.1" y="699.34" width="39.4" height="1.35" fill="#e03a3e"/><rect x="557.1" y="702.56" width="39.4" height="1.35" fill="#e03a3e"/><rect x="557.1" y="705.78" width="39.4" height="1.35" fill="#e03a3e"/><rect x="557.1" y="709.00" width="39.4" height="1.35" fill="#e03a3e"/><rect x="557.1" y="712.22" width="39.4" height="1.35" fill="#e03a3e"/><rect x="581" y="692.9" width="15.5" height="11" fill="#3560ad"/><rect x="596.5" y="692.9" width="1.3" height="38.5" fill="#333"/></g>
<text x="432" y="731" text-anchor="middle" font-size="19.6" fill="#333">R</text>
<text x="448.5" y="731" text-anchor="middle" font-size="19.6" fill="#333">E</text>
<text x="463.4" y="731" text-anchor="middle" font-size="19.6" fill="#333">S</text>
<text x="478.3" y="731" text-anchor="middle" font-size="19.6" fill="#333">T</text>
<text x="495.2" y="731" text-anchor="middle" font-size="19.6" fill="#333">O</text>
<text x="514.2" y="731" text-anchor="middle" font-size="19.6" fill="#333">R</text>
<text x="546.4" y="731" text-anchor="middle" font-size="19.6" fill="#333">T</text>
<text x="558" y="731" text-anchor="middle" font-size="19.6" fill="#333">I</text>
<text x="572.2" y="731" text-anchor="middle" font-size="19.6" fill="#333">O</text>
<text x="591.4" y="731" text-anchor="middle" font-size="19.6" fill="#333">N</text>
<path d="M524.6,731.2 L531.2,716.8 L537.8,731.2" fill="none" stroke="#e0262d" stroke-width="1.7"/>
<text x="533.2" y="751.3" font-size="20" font-style="italic" fill="#333" textLength="64.6" lengthAdjust="spacingAndGlyphs">NEWS</text>
</svg></body></html>
